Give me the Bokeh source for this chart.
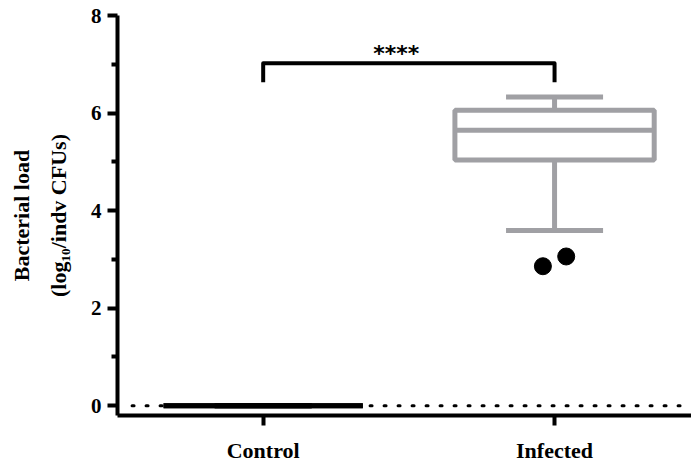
from bokeh.plotting import figure
from bokeh.models import FixedTicker, Range1d, ColumnDataSource, Label
from bokeh.embed import file_html
from bokeh.resources import INLINE

# ---- data ----
categories = ["Control", "Infected"]
cat_pos = [1, 2]
lower_whisker = [0.0, 3.59]
q1 = [0.0, 5.04]
median = [0.0, 5.65]
q3 = [0.0, 6.06]
upper_whisker = [0.0, 6.33]
outlier_values = [2.86, 3.06]
outlier_group = [2, 2]
outlier_jitter = [-0.04, 0.04]
significance = "****"
y_ticks = [0, 2, 4, 6, 8]
y_minor = [1, 3, 5, 7]

GRAY = "#a0a0a4"
FONT = "Liberation Serif"

p = figure(width=691, height=465, output_backend="svg", toolbar_location=None,
           x_range=Range1d(0.5, 2.47), y_range=Range1d(-0.2, 8.0),
           min_border_left=117, min_border_right=0, min_border_top=15, min_border_bottom=48)
p.outline_line_color = None
p.grid.visible = False
p.background_fill_color = "white"

# dotted zero line
p.line(x=[0.55, 2.47], y=[0, 0], line_color="black", line_width=3,
       line_dash="2 12", line_cap="round")

bw = 0.684
cw = 0.333
box_colors = ["black", GRAY]
src = ColumnDataSource(dict(x=cat_pos, q1=q1, q3=q3, med=median, lo=lower_whisker,
                            hi=upper_whisker, color=box_colors,
                            left=[c - bw / 2 for c in cat_pos], right=[c + bw / 2 for c in cat_pos],
                            cl=[c - cw / 2 for c in cat_pos], cr=[c + cw / 2 for c in cat_pos]))
# whiskers
p.segment(x0="x", y0="q3", x1="x", y1="hi", source=src, line_color="color", line_width=5)
p.segment(x0="x", y0="q1", x1="x", y1="lo", source=src, line_color="color", line_width=5)
p.segment(x0="cl", y0="hi", x1="cr", y1="hi", source=src, line_color="color", line_width=5)
p.segment(x0="cl", y0="lo", x1="cr", y1="lo", source=src, line_color="color", line_width=5)
# boxes
p.quad(left="left", right="right", bottom="q1", top="q3", source=src,
       fill_color="white", line_color="color", line_width=5)
p.segment(x0="left", y0="med", x1="right", y1="med", source=src, line_color="color", line_width=5)

# outliers
p.scatter(x=[g + j for g, j in zip(outlier_group, outlier_jitter)], y=outlier_values,
          size=17, color="black")

# significance bracket
by, leg = 7.02, 6.63
p.line(x=[cat_pos[0], cat_pos[0], cat_pos[1], cat_pos[1]], y=[leg, by, by, leg],
       line_color="black", line_width=4, line_join="round")
p.add_layout(Label(x=1.457, y=by + 0.2, text=significance, text_align="center",
                   text_baseline="alphabetic", text_font="DejaVu Sans", text_font_size="22px",
                   text_font_style="bold", text_color="black"))

# axes
p.yaxis.ticker = FixedTicker(ticks=y_ticks, minor_ticks=y_minor)
p.xaxis.ticker = FixedTicker(ticks=cat_pos, minor_ticks=[])
p.xaxis.major_label_overrides = {c: n for c, n in zip(cat_pos, categories)}
p.yaxis.axis_label = "Bacterial load\n(log\u2081\u2080/indv CFUs)"

for ax in (p.xaxis, p.yaxis):
    ax.axis_line_width = 4
    ax.axis_line_color = "black"
    ax.major_tick_line_width = 4
    ax.major_tick_out = 10
    ax.major_tick_in = 0
    ax.minor_tick_line_width = 4
    ax.minor_tick_out = 6
    ax.minor_tick_in = 0
    ax.major_label_text_font = FONT
    ax.major_label_text_font_style = "bold"
    ax.major_label_text_color = "black"

p.yaxis.major_label_text_font_size = "21px"
p.yaxis.major_label_standoff = 6
p.xaxis.major_label_text_font_size = "22px"
p.xaxis.major_label_standoff = 12
p.yaxis.axis_label_text_font = FONT
p.yaxis.axis_label_text_font_style = "bold"
p.yaxis.axis_label_text_font_size = "22px"
p.yaxis.axis_label_text_line_height = 1.5
p.yaxis.axis_label_standoff = 17
p.yaxis.axis_label_text_color = "black"

open("out.html", "w").write(file_html(p, INLINE))
